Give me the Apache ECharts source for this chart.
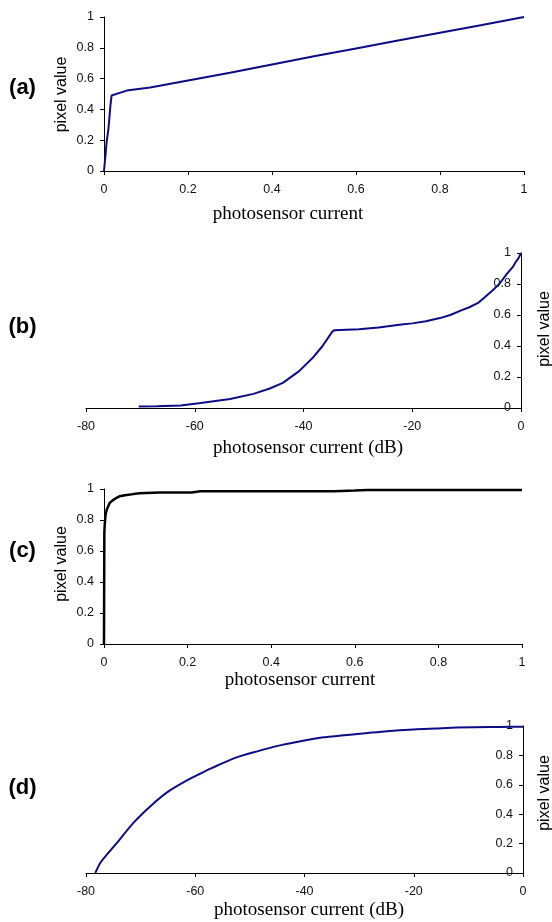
<!DOCTYPE html>
<html>
<head>
<meta charset="utf-8">
<script src="https://cdn.jsdelivr.net/npm/echarts@6/dist/echarts.min.js"></script>
<style>
html,body{margin:0;padding:0;background:#fff;}
#chart{width:552px;height:922px;}
</style>
</head>
<body>
<div id="chart"></div>
<script>
// ---- data ----
// (a) linear current vs pixel value
var aX = [0, 0.004, 0.0063, 0.0103, 0.0127, 0.015, 0.018, 0.054, 0.11, 0.2, 0.3, 0.4, 0.5, 0.6, 0.7, 0.8, 0.9, 1.0];
var aY = [0, 0.115, 0.19, 0.266, 0.34, 0.417, 0.49, 0.522, 0.542, 0.588, 0.638, 0.692, 0.745, 0.796, 0.848, 0.898, 0.948, 1.0];
// (b) dB current vs pixel value
var bX = [-70.3, -67, -62.6, -58.9, -53.5, -49.2, -46.2, -43.8, -40.8, -38.3, -36.5, -34.7, -34.3, -29.8, -26.2, -22, -20, -17.5, -14.9, -13, -11, -9.5, -7.8, -6.5, -5.2, -4, -2.6, -1.5, -1, -0.4, 0];
var bY = [0.01, 0.012, 0.016, 0.032, 0.058, 0.091, 0.126, 0.162, 0.238, 0.324, 0.4, 0.493, 0.502, 0.508, 0.519, 0.538, 0.546, 0.56, 0.58, 0.6, 0.63, 0.65, 0.68, 0.72, 0.76, 0.8, 0.865, 0.91, 0.94, 0.97, 1.0];
// (c) linear current vs pixel value
var cX = [0, 0.0008, 0.002, 0.004, 0.007, 0.0135, 0.02, 0.03, 0.037, 0.05, 0.07, 0.085, 0.1, 0.133, 0.17, 0.21, 0.23, 0.3, 0.4, 0.5, 0.55, 0.6, 0.63, 0.7, 0.8, 0.9, 1.0];
var cY = [0, 0.72, 0.78, 0.84, 0.87, 0.91, 0.925, 0.943, 0.953, 0.96, 0.967, 0.972, 0.974, 0.977, 0.978, 0.978, 0.985, 0.985, 0.985, 0.985, 0.986, 0.99, 0.993, 0.993, 0.993, 0.993, 0.993];
// (d) dB current vs pixel value
var dX = [-78.3, -77.3, -74.5, -71.2, -67.9, -64.9, -61.5, -59.4, -56.9, -52.7, -48.5, -45.1, -41.2, -36.5, -33.3, -29, -24.9, -20, -16, -12.1, -6, -2, 0];
var dY = [0, 0.073, 0.198, 0.346, 0.465, 0.555, 0.63, 0.67, 0.715, 0.783, 0.829, 0.863, 0.893, 0.923, 0.935, 0.95, 0.965, 0.977, 0.983, 0.989, 0.993, 0.995, 0.995];

var panelLabels = ['(a)', '(b)', '(c)', '(d)'];
var xTitles = ['photosensor current', 'photosensor current (dB)', 'photosensor current', 'photosensor current (dB)'];
var yTitle = 'pixel value';

function pairs(xs, ys){ var r=[]; for (var i=0;i<xs.length;i++) r.push([xs[i], ys[i]]); return r; }

var SANS = 'Liberation Sans, Arial, sans-serif';
var SERIF = 'Liberation Serif, Times New Roman, serif';
var AXC = '#000';

function xAx(gi, min, max, interval){
  return {
    gridIndex: gi, type: 'value', min: min, max: max, interval: interval,
    axisLine: {show: true, onZero: false, lineStyle: {color: AXC, width: 1}},
    axisTick: {show: true, length: 4, lineStyle: {color: AXC, width: 1}},
    axisLabel: {color: '#111', fontSize: 12.5, fontFamily: SANS, margin: 12},
    splitLine: {show: false}
  };
}
function yAx(gi, right){
  return {
    gridIndex: gi, type: 'value', min: 0, max: 1, interval: 0.2,
    position: right ? 'right' : 'left',
    axisLine: {show: true, onZero: false, lineStyle: {color: AXC, width: 1}},
    axisTick: {show: true, inside: !!right, length: 4, lineStyle: {color: AXC, width: 1}},
    axisLabel: {color: '#111', fontSize: 12.5, fontFamily: SANS, margin: 10, inside: !!right},
    splitLine: {show: false}
  };
}
function ser(gi, xs, ys, color, w, smooth){
  return {
    type: 'line', xAxisIndex: gi, yAxisIndex: gi, data: pairs(xs, ys),
    showSymbol: false, symbol: 'none', smooth: smooth || false, clip: false,
    lineStyle: {color: color, width: w}, animation: false
  };
}
function txt(x, y, text, font, rot){
  return {
    type: 'text', x: x, y: y, rotation: rot || 0,
    style: {text: text, font: font, fill: '#000', textAlign: 'center', textVerticalAlign: 'middle', align: 'center', verticalAlign: 'middle'}
  };
}

var NAVY = '#0c0c86';

var option = {
  animation: false,
  backgroundColor: '#fff',
  grid: [
    {left: 104, top: 17, width: 420, height: 154},
    {left: 86, top: 253, width: 435, height: 155},
    {left: 104, top: 489, width: 418, height: 155},
    {left: 86, top: 726, width: 437, height: 147}
  ],
  xAxis: [xAx(0, 0, 1, 0.2), xAx(1, -80, 0, 20), xAx(2, 0, 1, 0.2), xAx(3, -80, 0, 20)],
  yAxis: [yAx(0, false), yAx(1, true), yAx(2, false), yAx(3, true)],
  series: [
    ser(0, aX, aY, NAVY, 2),
    ser(1, bX, bY, NAVY, 2),
    ser(2, cX, cY, '#000', 2.5),
    ser(3, dX, dY, NAVY, 2, 0.25)
  ],
  graphic: [
    txt(22.5, 88, panelLabels[0], 'bold 22px ' + SANS),
    txt(22.5, 327, panelLabels[1], 'bold 22px ' + SANS),
    txt(22.5, 551, panelLabels[2], 'bold 22px ' + SANS),
    txt(22.5, 788, panelLabels[3], 'bold 22px ' + SANS),
    txt(288, 214, xTitles[0], '19px ' + SERIF),
    txt(308, 448, xTitles[1], '19px ' + SERIF),
    txt(300, 680, xTitles[2], '19px ' + SERIF),
    txt(309, 910, xTitles[3], '19px ' + SERIF),
    txt(61.5, 94.5, yTitle, '16px ' + SANS, Math.PI/2),
    txt(545, 329, yTitle, '16px ' + SANS, Math.PI/2),
    txt(62, 564, yTitle, '16px ' + SANS, Math.PI/2),
    txt(545, 793, yTitle, '16px ' + SANS, Math.PI/2)
  ]
};

var chart = echarts.init(document.getElementById('chart'), null, {renderer: 'canvas'});
chart.setOption(option);
</script>
</body>
</html>
